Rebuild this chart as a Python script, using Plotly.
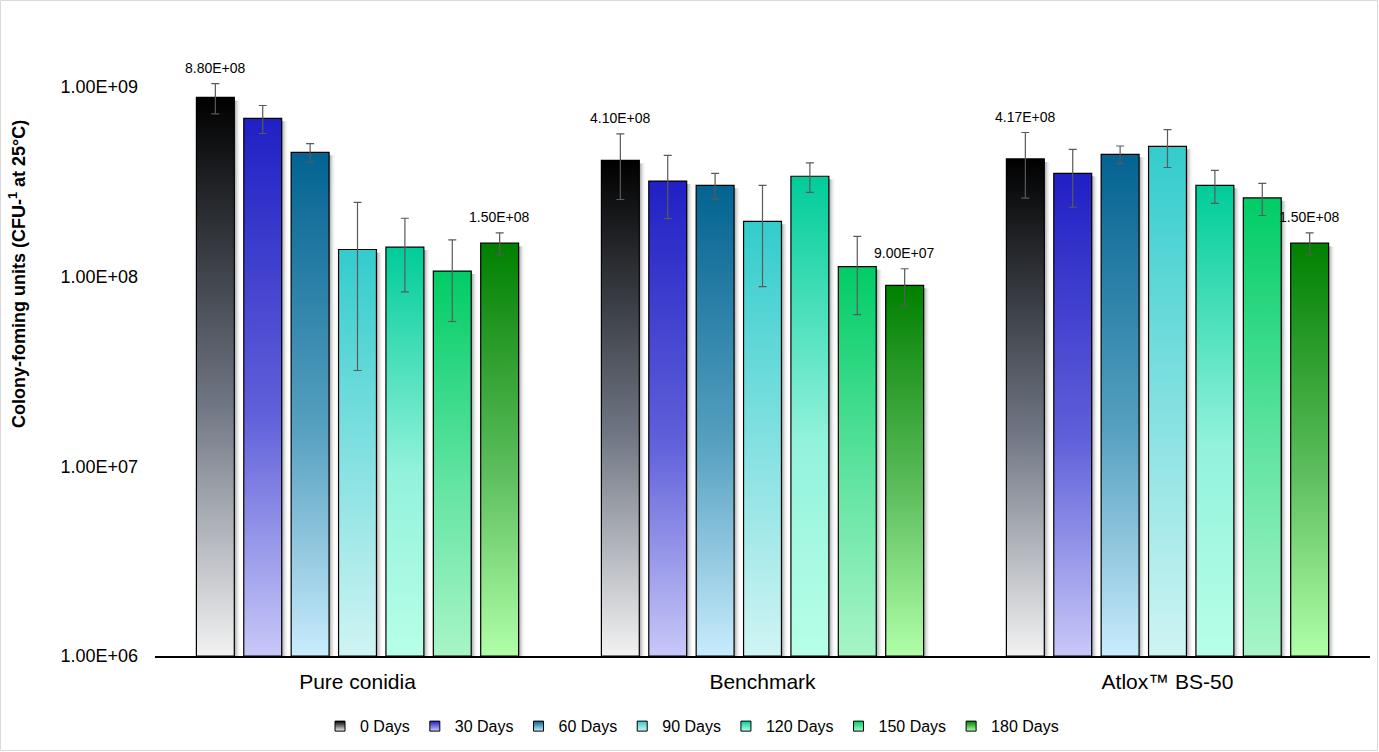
import math
import plotly.graph_objects as go

groups = ["Pure conidia", "Benchmark", "Atlox™ BS-50"]
series = ["0 Days", "30 Days", "60 Days", "90 Days", "120 Days", "150 Days", "180 Days"]

# values per series: [Pure conidia, Benchmark, Atlox]
values = {
    "0 Days":   [8.80e8, 4.10e8, 4.17e8],
    "30 Days":  [6.83e8, 3.19e8, 3.50e8],
    "60 Days":  [4.52e8, 3.03e8, 4.41e8],
    "90 Days":  [1.39e8, 1.955e8, 4.86e8],
    "120 Days": [1.43e8, 3.38e8, 3.03e8],
    "150 Days": [1.07e8, 1.13e8, 2.60e8],
    "180 Days": [1.50e8, 9.00e7, 1.50e8],
}
errors = {
    "0 Days":   [1.60e8, 1.55e8, 1.58e8],
    "30 Days":  [1.15e8, 1.17e8, 1.18e8],
    "60 Days":  [5.0e7, 4.7e7, 4.7e7],
    "90 Days":  [1.07e8, 1.07e8, 1.10e8],
    "120 Days": [6.0e7, 6.0e7, 6.0e7],
    "150 Days": [4.9e7, 5.0e7, 5.0e7],
    "180 Days": [2.0e7, 2.0e7, 2.0e7],
}
# gradient colours (bottom, middle, top)
colors = {
    "0 Days":   ["#f2f2f2", "#6f7683", "#000000"],
    "30 Days":  ["#c8c8f8", "#6060da", "#2020c4"],
    "60 Days":  ["#c8ecfc", "#56a0c0", "#036391"],
    "90 Days":  ["#d0f4f4", "#8ae2e2", "#33cccc"],
    "120 Days": ["#b8ffe8", "#92f2db", "#00cc99"],
    "150 Days": ["#a8f5c8", "#62e4a2", "#00cc66"],
    "180 Days": ["#b0ffa8", "#5cbd5c", "#008000"],
}
ytick_vals = [1e6, 1e7, 1e8, 1e9]
ytick_text = ["1.00E+06", "1.00E+07", "1.00E+08", "1.00E+09"]
labelled_series = ["0 Days", "180 Days"]

FONT = "Arial, Liberation Sans, sans-serif"
step = 0.117
half_w = 0.0468
shadow_w = 0.017
ybase = 1e6

fig = go.Figure()

# shadows
for i, s in enumerate(series):
    for g in range(len(groups)):
        xc = g + (i - 3) * step
        v = values[s][g]
        xl, xr = xc + half_w, xc + half_w + shadow_w
        fig.add_trace(go.Scatter(
            x=[xl, xl, xr, xr, xl], y=[ybase, v * 0.965, v * 0.965, ybase, ybase],
            mode="lines", line=dict(width=0), fill="toself",
            fillgradient=dict(type="horizontal", colorscale=[[0, "#9a9a9a"], [1, "rgba(255,255,255,0)"]]),
            hoverinfo="skip", showlegend=False))

# bars
for i, s in enumerate(series):
    c = colors[s]
    for g in range(len(groups)):
        xc = g + (i - 3) * step
        v = values[s][g]
        xl, xr = xc - half_w, xc + half_w
        fig.add_trace(go.Scatter(
            x=[xl, xl, xr, xr, xl], y=[ybase, v, v, ybase, ybase],
            mode="lines", line=dict(color="#000000", width=1.2), fill="toself",
            fillgradient=dict(type="vertical", colorscale=[[0, c[0]], [0.45, c[1]], [1, c[2]]]),
            fillcolor=c[1],
            name=s, legendgroup=s, showlegend=False,
            hovertemplate=f"{groups[g]}<br>{s}: {v:.2E}<extra></extra>"))

# error bars
for i, s in enumerate(series):
    xs = [g + (i - 3) * step for g in range(len(groups))]
    fig.add_trace(go.Scatter(
        x=xs, y=values[s], mode="markers", marker=dict(size=1, opacity=0),
        error_y=dict(type="data", array=errors[s], visible=True, color="#5a5a5a", thickness=1.2, width=4),
        hoverinfo="skip", showlegend=False, legendgroup=s))

# legend entries (square swatches)
for s in series:
    c = colors[s]
    fig.add_trace(go.Scatter(
        x=[None], y=[None], mode="markers", name=s, legendgroup=s,
        marker=dict(symbol="square", size=10, color=c[2],
                    gradient=dict(type="vertical", color=c[0]),
                    line=dict(color="#000000", width=1))))

# data labels
for s in labelled_series:
    i = series.index(s)
    for g in range(len(groups)):
        xc = g + (i - 3) * step
        v = values[s][g]
        top = v + errors[s][g]
        fig.add_annotation(x=xc, y=math.log10(top), text=f"{v:.2E}",
                           showarrow=False, yanchor="bottom", yshift=6,
                           font=dict(family=FONT, size=14, color="#000000"))

fig.add_annotation(xref="paper", yref="paper", x=(17 - 155) / 1215, y=(656 - 274) / 626,
                   text="Colony-foming units (CFU-<sup>1</sup> at 25°C)", textangle=-90,
                   showarrow=False, xanchor="center", yanchor="middle",
                   font=dict(family=FONT, size=18, color="#000000", weight="bold"))

fig.add_shape(type="rect", xref="paper", yref="paper",
              x0=(0.5 - 155) / 1215, x1=(1377.5 - 155) / 1215,
              y0=(656 - 750.5) / 626, y1=(656 - 0.5) / 626,
              line=dict(color="#d9d9d9", width=1), fillcolor="rgba(0,0,0,0)", layer="below")

fig.update_layout(
    width=1379, height=752,
    margin=dict(l=155, r=9, t=30, b=96),
    paper_bgcolor="white", plot_bgcolor="white",
    font=dict(family=FONT, color="#000000"),
    showlegend=True,
    legend=dict(orientation="h", x=0.442, xanchor="center", y=-0.085, yanchor="top",
                font=dict(size=16, family=FONT), itemwidth=30,
                traceorder="normal"),
    xaxis=dict(range=[-0.5, 2.5], tickvals=[0, 1, 2], ticktext=groups, showgrid=False,
               zeroline=False, showline=True, linecolor="#000000", linewidth=2, ticks="",
               ticklabelstandoff=6,
               tickfont=dict(size=21, family=FONT, color="#000000")),
    yaxis=dict(type="log", range=[6, 9.30], tickvals=ytick_vals, ticktext=ytick_text,
               showgrid=False, zeroline=False, showline=False, ticks="",
               ticklabelstandoff=16,
               tickfont=dict(size=18, family=FONT, color="#000000")),
)

fig.write_html("out.html", config={"displayModeBar": False},
               post_script="document.body.style.margin='0';document.body.style.overflow='hidden';")
